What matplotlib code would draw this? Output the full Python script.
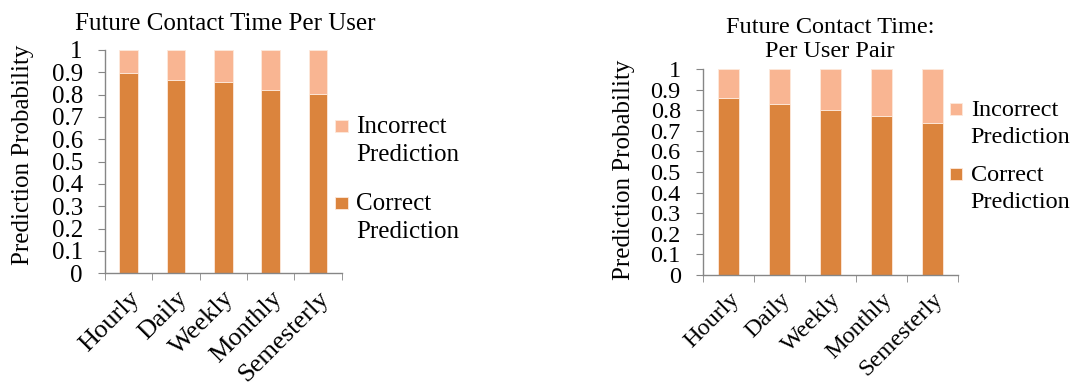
import numpy as np
import matplotlib.pyplot as plt
from matplotlib.patches import Rectangle
from matplotlib.container import BarContainer
from matplotlib.legend_handler import HandlerPatch, update_from_first_child

plt.rcParams['font.family'] = ['Liberation Serif', 'DejaVu Serif']

periods = ['Hourly', 'Daily', 'Weekly', 'Monthly', 'Semesterly']
correct_user = [0.898, 0.866, 0.857, 0.820, 0.804]
correct_pair = [0.859, 0.830, 0.801, 0.772, 0.739]
titles = ['Future Contact Time Per User', 'Future Contact Time:\nPer User Pair']

CORRECT = '#db843d'
INCORRECT = '#f9b592'
GRID = '#868686'

W, H = 1072, 387
fig = plt.figure(figsize=(W / 100, H / 100), dpi=100)


def px_axes(x0, y0, x1, y1):
    # pixel box (top-left origin) -> figure fraction
    return fig.add_axes([x0 / W, 1 - y1 / H, (x1 - x0) / W, (y1 - y0) / H])


def top_square(legend, orig_handle, xdescent, ydescent, width, height, fontsize):
    # excel puts the swatch next to the first line of a wrapped label
    s = 0.5 * fontsize
    return Rectangle((-xdescent, -ydescent + 0.62 * fontsize), s, s)


def draw(ax, correct, title, title_xy, ylabel_xy, fs, xfs, leg_anchor, leg_gap):
    x = np.arange(len(periods))
    correct = np.array(correct)
    ax.bar(x, correct, width=0.4, color=CORRECT, edgecolor='#fde9dc',
           linewidth=0.6, label='Correct\nPrediction')
    ax.bar(x, 1 - correct, bottom=correct, width=0.4, color=INCORRECT,
           edgecolor='#fde9dc', linewidth=0.6, label='Incorrect\nPrediction')

    ax.set_xlim(-0.5, len(periods) - 0.5)
    ax.set_ylim(0, 1)
    ax.set_yticks(np.arange(0, 1.01, 0.1))
    ax.set_yticklabels(['0'] + ['%.1f' % v for v in np.arange(0.1, 0.95, 0.1)] + ['1'])
    ax.set_xticks(x)
    ax.set_xticklabels(periods, rotation=45, ha='right', va='top',
                       rotation_mode='anchor')
    ax.set_xticks(np.arange(-0.5, len(periods), 1), minor=True)
    ax.tick_params(axis='x', which='major', length=0, pad=10, labelsize=xfs)
    ax.tick_params(axis='x', which='minor', length=5, color=GRID, direction='out')
    ax.tick_params(axis='y', length=5, color=GRID, pad=11, labelsize=fs)

    for s in ['top', 'right']:
        ax.spines[s].set_visible(False)
    for s in ['left', 'bottom']:
        ax.spines[s].set_color(GRID)
        ax.spines[s].set_linewidth(1.0)

    fig.text(ylabel_xy[0] / W, 1 - ylabel_xy[1] / H, 'Prediction Probability',
             rotation=90, ha='center', va='center', fontsize=18)
    fig.text(title_xy[0] / W, 1 - title_xy[1] / H, title, ha='center',
             va='baseline', fontsize=fs, linespacing=1.2)

    handles, labels = ax.get_legend_handles_labels()
    handler = HandlerPatch(patch_func=top_square, update_func=update_from_first_child)
    leg = ax.legend(handles[::-1], labels[::-1], loc='center left',
                    bbox_to_anchor=leg_anchor, frameon=False, fontsize=fs,
                    handlelength=0.5, handleheight=0.5, handletextpad=0.35,
                    labelspacing=leg_gap, borderaxespad=0, borderpad=0,
                    handler_map={BarContainer: handler})
    for t in leg.get_texts():
        t.set_linespacing(1.35)


ax1 = px_axes(105, 50, 341.7, 273.3)
draw(ax1, correct_user, titles[0], (225, 30), (23, 155), 18, 19,
     (0.972, 0.42), 1.1)

ax2 = px_axes(703, 69, 958, 275)
draw(ax2, correct_pair, titles[1], (830, 57), (624, 170), 17.5, 17.5,
     (0.969, 0.575), 0.72)

fig.savefig('out.png', dpi=100)
